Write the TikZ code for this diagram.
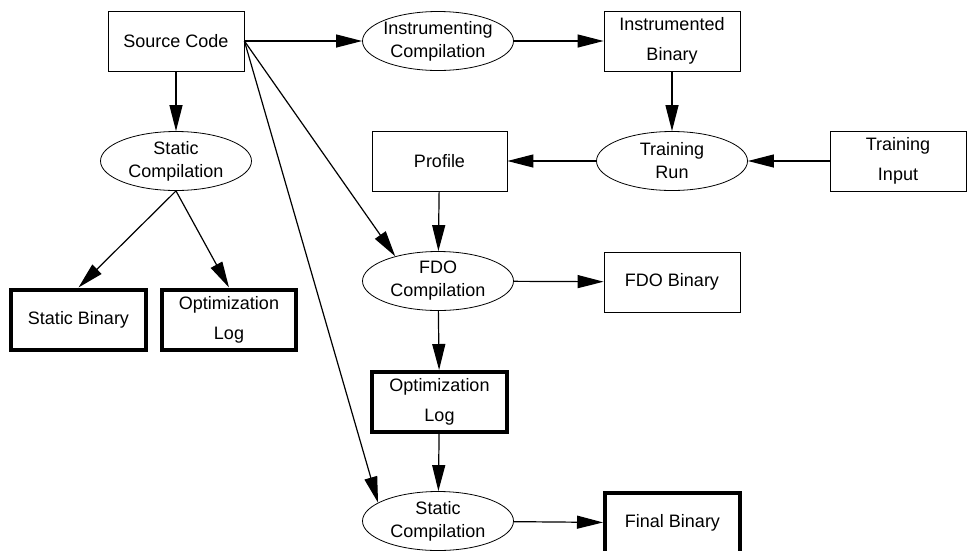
\documentclass[tikz,border=0pt]{standalone}
\usepackage{fontspec}
\setmainfont{Liberation Sans}
\usetikzlibrary{shapes, arrows.meta, positioning}

\begin{document}
\begin{tikzpicture}[
        x=1pt, y=-1pt,
        box/.style={rectangle, draw, line width=0.8pt, minimum width=136pt, minimum height=60pt, inner sep=0pt, align=center, font=\fontsize{18}{30}\selectfont},
        outbox/.style={box, line width=4pt, minimum width=135pt, minimum height=60pt},
        stage/.style={ellipse, draw, line width=0.8pt, minimum width=151pt, minimum height=59pt, inner xsep=-3pt, inner ysep=0pt, align=center, font=\fontsize{18}{23}\selectfont},
        arrow/.style={-{Triangle[length=26pt, width=13pt]}, line width=1.2pt}
    ]
    \useasboundingbox (0,0) rectangle (969,550);

    % Nodes
    \node[box] (src) at (176,41) {Source Code};
    \node[stage] (instcomp) at (438,41) {Instrumenting\\Compilation};
    \node[box] (instbin) at (672,41) {Instrumented\\Binary};
    \node[stage] (trainrun) at (672,161) {Training\\Run};
    \node[box] (traininput) at (898,161) {Training\\Input};
    \node[box, minimum width=135pt] (profile) at (439.5,161) {Profile};
    \node[stage] (statcomp) at (176,161) {Static\\Compilation};
    \node[outbox] (statbin) at (78.5,319.5) {Static Binary};
    \node[outbox, minimum width=134pt] (statlog) at (229,319.5) {Optimization\\Log};
    \node[stage] (fdocomp) at (438,281) {FDO\\Compilation};
    \node[box] (fdobin) at (672,282) {FDO Binary};
    \node[outbox] (fdolog) at (439.5,402) {Optimization\\Log};
    \node[stage] (finalcomp) at (438,521) {Static\\Compilation};
    \node[outbox] (finalbin) at (672.5,523) {Final Binary};

    % Arrows
    \draw[arrow] (src.east) -- (instcomp.west);
    \draw[arrow] (instcomp) -- (instbin);
    \draw[arrow] (instbin) -- (trainrun);
    \draw[arrow] (traininput) -- (trainrun);
    \draw[arrow] (trainrun) -- (profile);
    \draw[arrow] (src) -- (statcomp);
    \draw[arrow] (statcomp.south) -- (statbin.north);
    \draw[arrow] (statcomp.south) -- (statlog.north);
    \draw[arrow] (src.east) -- (fdocomp.150);
    \draw[arrow] (src.east) -- (finalcomp.163);
    \draw[arrow] (profile) -- (fdocomp);
    \draw[arrow] (fdocomp) -- (fdobin);
    \draw[arrow] (fdocomp) -- (fdolog);
    \draw[arrow] (fdolog) -- (finalcomp);
    \draw[arrow] (finalcomp) -- (finalbin);
\end{tikzpicture}
\end{document}
